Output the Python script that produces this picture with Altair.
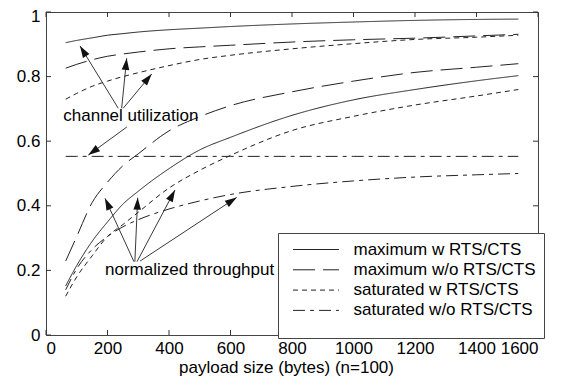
import math
import altair as alt
import pandas as pd

FONT = "Liberation Sans"

# ---------------- data ----------------
payload = [64, 100, 150, 200, 250, 300, 400, 500, 600, 800, 1000, 1200, 1400, 1536]

series_names = ["maximum w RTS/CTS", "maximum w/o RTS/CTS",
                "saturated w RTS/CTS", "saturated w/o RTS/CTS"]

# channel utilization
util_max_rts = [0.905, 0.912, 0.920, 0.928, 0.933, 0.938, 0.945, 0.950, 0.955, 0.963, 0.969, 0.974, 0.977, 0.978]
util_max_basic = [0.826, 0.838, 0.852, 0.863, 0.870, 0.876, 0.886, 0.892, 0.897, 0.907, 0.914, 0.919, 0.926, 0.931]
util_sat_rts = [0.730, 0.748, 0.770, 0.786, 0.800, 0.812, 0.834, 0.853, 0.866, 0.886, 0.902, 0.915, 0.922, 0.928]
util_sat_basic = [0.553, 0.553, 0.553, 0.553, 0.553, 0.553, 0.553, 0.553, 0.553, 0.553, 0.553, 0.553, 0.553, 0.553]

# normalized throughput
thr_max_rts = [0.152, 0.215, 0.290, 0.350, 0.405, 0.445, 0.515, 0.573, 0.612, 0.680, 0.728, 0.760, 0.787, 0.803]
thr_max_basic = [0.229, 0.305, 0.410, 0.473, 0.524, 0.561, 0.632, 0.676, 0.710, 0.753, 0.786, 0.813, 0.829, 0.840]
thr_sat_rts = [0.120, 0.180, 0.245, 0.305, 0.342, 0.380, 0.455, 0.510, 0.556, 0.633, 0.677, 0.712, 0.740, 0.760]
thr_sat_basic = [0.140, 0.205, 0.265, 0.305, 0.335, 0.357, 0.390, 0.415, 0.435, 0.460, 0.477, 0.489, 0.496, 0.500]

x_ticks = [0, 200, 400, 600, 800, 1000, 1200, 1400, 1600]
y_ticks = [0, 0.2, 0.4, 0.6, 0.8, 1.0]

# annotations (data coordinates)
ann_text = ["channel utilization", "normalized throughput"]
ann_text_x = [276, 467]
ann_text_y = [0.6635, 0.186]

arrow_x0 = [235, 246, 251, 263, 286, 289, 296, 306]
arrow_y0 = [0.702, 0.702, 0.702, 0.644, 0.227, 0.227, 0.227, 0.229]
arrow_x1 = [110.6, 262.4, 343.7, 137.6, 191.9, 298.2, 419.5, 620.2]
arrow_y1 = [0.895, 0.857, 0.808, 0.557, 0.423, 0.425, 0.449, 0.426]

# ---------------- build tables ----------------
W, H = 492, 323
XMAX = 1600

curves = [
    ("util", series_names[0], util_max_rts),
    ("util", series_names[1], util_max_basic),
    ("util", series_names[2], util_sat_rts),
    ("util", series_names[3], util_sat_basic),
    ("thr", series_names[0], thr_max_rts),
    ("thr", series_names[1], thr_max_basic),
    ("thr", series_names[2], thr_sat_rts),
    ("thr", series_names[3], thr_sat_basic),
]
rows = []
for grp, name, vals in curves:
    for xv, yv in zip(payload, vals):
        rows.append({"x": xv, "y": yv, "series": name, "curve": grp + name})
df = pd.DataFrame(rows)

angles = []
for x0, y0, x1, y1 in zip(arrow_x0, arrow_y0, arrow_x1, arrow_y1):
    dxp = (x1 - x0) * W / XMAX
    dyp = -(y1 - y0) * H
    angles.append(math.degrees(math.atan2(dxp, -dyp)) % 360)
arrows = pd.DataFrame({"x": arrow_x0, "y": arrow_y0, "x2": arrow_x1, "y2": arrow_y1})
heads_df = pd.DataFrame({"x": arrow_x1, "y": arrow_y1, "angle": angles})
texts = pd.DataFrame({"x": ann_text_x, "y": ann_text_y, "label": ann_text})
xt = pd.DataFrame({"x": x_ticks})
yt = pd.DataFrame({"y": y_ticks})

xscale = alt.Scale(domain=[0, 1600], nice=False, zero=False)
yscale = alt.Scale(domain=[0, 1], nice=False)

lines = alt.Chart(df).mark_line(color="#222", strokeWidth=1, interpolate="monotone").encode(
    x=alt.X("x:Q", scale=xscale,
            axis=alt.Axis(values=x_ticks, format="d", ticks=False, domain=False, grid=False,
                          labelFontSize=17, labelColor="black", labelPadding=5, labelFont=FONT,
                          title="payload size (bytes) (n=100)", titleFontSize=17,
                          titleFontWeight="normal", titleColor="black", titleFont=FONT,
                          titlePadding=3, titleX=240)),
    y=alt.Y("y:Q", scale=yscale,
            axis=alt.Axis(values=y_ticks, format="~g", ticks=False, domain=False, grid=False,
                          labelFontSize=17, labelColor="black", labelPadding=6, labelFont=FONT,
                          labelOffset={"condition": {"test": "datum.value == 1", "value": 4},
                                       "value": 0},
                          title=None)),
    detail="curve:N",
    strokeDash=alt.StrokeDash(
        "series:N",
        scale=alt.Scale(domain=series_names, range=[[1, 0], [22, 8], [5, 4], [12, 5, 4, 5]]),
        legend=alt.Legend(
            title=" ", titleOrient="bottom", titleFontSize=10, titlePadding=2,
            orient="none", legendX=232, legendY=221, direction="vertical",
            symbolType="M-4,0L4,0", symbolSize=132, symbolStrokeWidth=1,
            symbolStrokeColor="#222", symbolFillColor="transparent",
            symbolOffset=21.5, labelOffset=29, labelLimit=400,
            labelFontSize=17, labelColor="black", labelFont=FONT,
            padding=8, rowPadding=2.3, strokeColor="#444", fillColor="white",
        ),
    ),
)

rules = alt.Chart(arrows).mark_rule(color="#222", strokeWidth=0.9).encode(
    x="x:Q", y="y:Q", x2="x2:Q", y2="y2:Q"
)

heads = alt.Chart(heads_df).mark_point(
    shape="M0,0L-0.32,1L0.32,1Z", filled=True, size=560, color="#111", opacity=1
).encode(
    x="x:Q", y="y:Q",
    angle=alt.Angle("angle:Q", scale=None),
)

labels = alt.Chart(texts).mark_text(
    fontSize=17, font=FONT, align="center", baseline="alphabetic", color="black"
).encode(x="x:Q", y="y:Q", text="label:N")

tick_color = "#333"
xt_bottom = alt.Chart(xt).mark_rule(color=tick_color).encode(
    x="x:Q", y=alt.value(H), y2=alt.value(H - 5))
xt_top = alt.Chart(xt).mark_rule(color=tick_color).encode(
    x="x:Q", y=alt.value(0), y2=alt.value(5))
yt_left = alt.Chart(yt).mark_rule(color=tick_color).encode(
    y="y:Q", x=alt.value(0), x2=alt.value(5))
yt_right = alt.Chart(yt).mark_rule(color=tick_color).encode(
    y="y:Q", x=alt.value(W), x2=alt.value(W - 5))

chart = alt.layer(lines, rules, heads, labels, xt_bottom, xt_top, yt_left, yt_right).properties(
    width=W, height=H,
    autosize=alt.AutoSizeParams(type="none"),
    padding={"left": 38, "top": 4, "right": 21, "bottom": 43},
    background="white",
).configure_view(stroke="#444", strokeWidth=1)

chart.save("out.html", embed_options={"renderer": "svg", "actions": False})
